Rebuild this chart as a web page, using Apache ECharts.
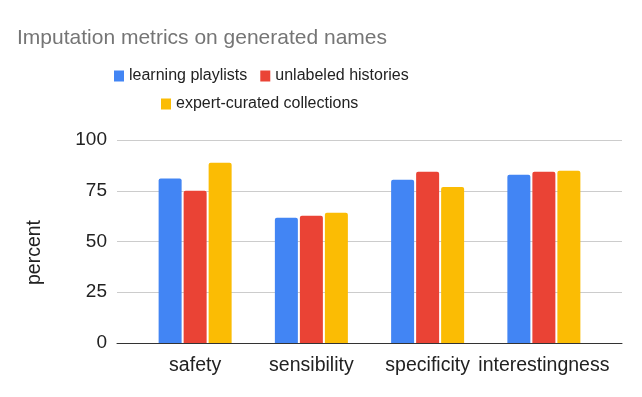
<!DOCTYPE html>
<html>
<head>
<meta charset="utf-8">
<script src="https://cdn.jsdelivr.net/npm/echarts@6/dist/echarts.min.js"></script>
<style>html,body{margin:0;padding:0;background:#fff}#c{width:642px;height:397px}</style>
</head>
<body>
<div id="c"></div>
<script>
const categories = ['safety', 'sensibility', 'specificity', 'interestingness'];
const learningPlaylists = [81, 61.7, 80.4, 82.9];
const unlabeledHistories = [75, 62.7, 84.4, 84.4];
const expertCollections = [88.8, 64.2, 76.8, 84.9];
const seriesNames = ['learning playlists', 'unlabeled histories', 'expert-curated collections'];
const yTicks = [0, 25, 50, 75, 100];

const colors = ['#4285F4', '#EA4335', '#FBBC04'];
const font = 'Arial, "Liberation Sans", sans-serif';
const chart = echarts.init(document.getElementById('c'));

function bar(name, data, color) {
  return {
    name, type: 'bar', data, xAxisIndex: 0, yAxisIndex: 0,
    barWidth: 23, barGap: '8.7%',
    itemStyle: { color, borderRadius: [2, 2, 0, 0] }
  };
}

chart.setOption({
  animation: false,
  backgroundColor: '#fff',
  color: colors,
  title: {
    text: 'Imputation metrics on generated names',
    left: 12, top: 23,
    textStyle: { fontFamily: font, fontSize: 21, fontWeight: 'normal', color: '#757575' }
  },
  legend: [
    {
      data: [seriesNames[0], seriesNames[1]],
      left: 109, top: 63, itemWidth: 10, itemHeight: 11, itemGap: 13,
      icon: 'rect',
      textStyle: { fontFamily: font, fontSize: 16, color: '#222' }
    },
    {
      data: [seriesNames[2]],
      left: 156, top: 91, itemWidth: 10, itemHeight: 11,
      icon: 'rect',
      textStyle: { fontFamily: font, fontSize: 16, color: '#222' }
    }
  ],
  grid: [
    { left: 137, width: 465, top: 140, height: 203 },
    { left: 117, width: 505, top: 140, height: 203 }
  ],
  xAxis: [
    {
      type: 'category', data: categories, gridIndex: 0,
      axisLine: { show: false }, axisTick: { show: false },
      axisLabel: { fontFamily: font, fontSize: 19.5, color: '#222', margin: 13, interval: 0 }
    },
    {
      type: 'category', data: [''], gridIndex: 1,
      axisLine: { show: true, lineStyle: { color: '#333', width: 1 } },
      axisTick: { show: false }, axisLabel: { show: false }
    }
  ],
  yAxis: [
    {
      type: 'value', gridIndex: 0, min: 0, max: 100, interval: 25,
      splitLine: { show: false }, axisLabel: { show: false },
      axisLine: { show: false }, axisTick: { show: false }
    },
    {
      type: 'value', gridIndex: 1, min: 0, max: 100, interval: 25,
      splitLine: { show: true, lineStyle: { color: '#cccccc' } },
      axisLine: { show: false }, axisTick: { show: false },
      axisLabel: { fontFamily: font, fontSize: 19, color: '#222', margin: 10,
        formatter: v => yTicks.includes(v) ? String(v) : '' },
      name: 'percent', nameLocation: 'middle', nameGap: 72, nameRotate: 90,
      nameTextStyle: { fontFamily: font, fontSize: 19.5, color: '#222', padding: [0, 22, 0, 0] }
    }
  ],
  series: [
    bar(seriesNames[0], learningPlaylists, colors[0]),
    bar(seriesNames[1], unlabeledHistories, colors[1]),
    bar(seriesNames[2], expertCollections, colors[2])
  ]
});
</script>
</body>
</html>
